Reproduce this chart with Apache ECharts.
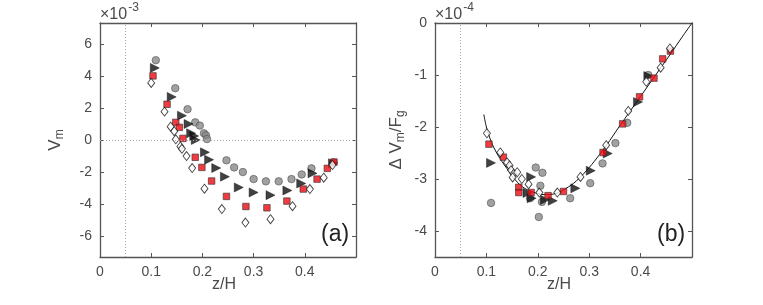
<!DOCTYPE html>
<html><head><meta charset="utf-8">
<script src="https://cdn.jsdelivr.net/npm/echarts@6/dist/echarts.min.js"></script>
<style>html,body{margin:0;padding:0;background:#fff}#c{width:763px;height:305px}</style>
</head><body><div id="c"></div><script>
// ---- data ----
const xTicks = [0, 0.1, 0.2, 0.3, 0.4];
const yTicksA = [-6, -4, -2, 0, 2, 4, 6];
const yTicksB = [-4, -3, -2, -1, 0];

// panel (a): V_m (x1e-3) vs z/H
const circA = [[0.109,4.98],[0.147,3.23],[0.171,1.92],[0.186,1.1],[0.195,0.9],[0.203,0.42],[0.207,0.3],[0.209,0.06],[0.247,-1.27],[0.262,-1.71],[0.279,-2.0],[0.30,-2.44],[0.324,-2.58],[0.349,-2.58],[0.374,-2.44],[0.394,-2.15],[0.413,-1.77],[0.456,-1.4]];
const triA = [[0.107,4.5],[0.14,2.69],[0.16,1.52],[0.173,1.0],[0.178,0.42],[0.184,0.25],[0.187,0.0],[0.205,-0.77],[0.213,-1.23],[0.227,-1.75],[0.244,-2.29],[0.271,-2.96],[0.30,-3.27],[0.333,-3.44],[0.366,-3.15],[0.393,-2.71],[0.415,-2.08],[0.455,-1.45]];
const sqA = [[0.1035,4.0],[0.131,2.23],[0.148,1.1],[0.155,0.79],[0.162,0.1],[0.186,-1.08],[0.199,-1.71],[0.218,-2.56],[0.247,-3.52],[0.285,-4.15],[0.326,-4.23],[0.365,-3.81],[0.397,-3.06],[0.424,-2.44],[0.444,-1.77],[0.457,-1.375]];
const diaA = [[0.1,3.56],[0.126,1.77],[0.138,0.83],[0.145,0.55],[0.148,0.04],[0.157,-0.4],[0.16,-0.55],[0.169,-1.0],[0.18,-1.75],[0.204,-3.04],[0.238,-4.31],[0.284,-5.15],[0.333,-4.94],[0.376,-4.13],[0.41,-3.06],[0.437,-2.35],[0.454,-1.56]];

// panel (b): dV_m/F_g (x1e-4) vs z/H
const circB = [[0.109,-3.46],[0.196,-2.78],[0.209,-2.88],[0.205,-3.13],[0.202,-3.73],[0.208,-3.44],[0.185,-3.37],[0.263,-3.37],[0.302,-3.08],[0.326,-2.7],[0.351,-2.31],[0.374,-1.92],[0.415,-1.0]];
const triB = [[0.109,-2.69],[0.187,-2.96],[0.18,-3.27],[0.188,-3.37],[0.214,-3.4],[0.229,-3.42],[0.273,-3.18],[0.303,-2.84],[0.336,-2.51],[0.395,-1.52],[0.415,-1.02]];
const sqB = [[0.105,-2.33],[0.133,-2.58],[0.163,-3.16],[0.163,-3.26],[0.187,-3.26],[0.22,-3.32],[0.25,-3.24],[0.327,-2.49],[0.365,-1.94],[0.398,-1.42],[0.426,-1.06],[0.443,-0.69],[0.458,-0.54]];
const diaB = [[0.101,-2.12],[0.127,-2.49],[0.14,-2.68],[0.145,-2.74],[0.148,-2.83],[0.153,-2.9],[0.151,-2.97],[0.16,-2.87],[0.169,-3.0],[0.182,-3.1],[0.203,-3.26],[0.238,-3.26],[0.283,-2.96],[0.333,-2.35],[0.376,-1.69],[0.411,-1.13],[0.439,-0.86],[0.457,-0.49]];
const fitB = [[0.095,-1.76],[0.10,-2.0],[0.11,-2.3],[0.12,-2.5],[0.13,-2.66],[0.14,-2.8],[0.15,-2.94],[0.16,-3.06],[0.17,-3.15],[0.18,-3.21],[0.19,-3.25],[0.20,-3.28],[0.21,-3.3],[0.22,-3.3],[0.23,-3.29],[0.24,-3.26],[0.25,-3.21],[0.26,-3.15],[0.27,-3.08],[0.28,-2.99],[0.29,-2.89],[0.30,-2.78],[0.31,-2.66],[0.32,-2.53],[0.33,-2.4],[0.34,-2.26],[0.36,-1.97],[0.38,-1.69],[0.40,-1.41],[0.42,-1.13],[0.44,-0.85],[0.46,-0.57],[0.48,-0.28],[0.50,0]];

// ---- styling ----
const FONT = '"Liberation Sans", Arial, sans-serif';
const AX = '#555';
const LBL = '#4a4a4a';

function xAxes(gi) {
  return [{
    type:'value', gridIndex:gi, position:'bottom', min:0, max:0.5,
    axisLine:{show:true, onZero:false, lineStyle:{color:AX, width:1.3}},
    axisTick:{show:true, inside:true, length:4, customValues:xTicks, lineStyle:{color:AX}},
    axisLabel:{show:true, customValues:xTicks, margin:8, color:LBL, fontSize:14, fontFamily:FONT},
    splitLine:{show:false}
  },{
    type:'value', gridIndex:gi, position:'top', min:0, max:0.5,
    axisLine:{show:true, onZero:false, lineStyle:{color:AX, width:1.3}},
    axisTick:{show:true, inside:true, length:4, customValues:xTicks, lineStyle:{color:AX}},
    axisLabel:{show:false}, splitLine:{show:false}
  }];
}
function yAxes(gi, min, max, ticks, name) {
  return [{
    type:'value', gridIndex:gi, position:'left', min:min, max:max,
    axisLine:{show:true, onZero:false, lineStyle:{color:AX, width:1.3}},
    axisTick:{show:true, inside:true, length:4, customValues:ticks, lineStyle:{color:AX}},
    axisLabel:{show:true, customValues:ticks, margin:8, color:LBL, fontSize:14, fontFamily:FONT},
    splitLine:{show:false},
    name:name, nameLocation:'middle', nameRotate:90, nameGap: gi===0 ? 34 : 28,
    nameTextStyle:{color:LBL, fontFamily:FONT, fontSize:17,
      rich:{n:{fontSize:17, fontFamily:FONT, color:LBL},
            s:{fontSize:12, fontFamily:FONT, color:LBL, padding:[10,0,0,0]}}}
  },{
    type:'value', gridIndex:gi, position:'right', min:min, max:max,
    axisLine:{show:true, onZero:false, lineStyle:{color:AX, width:1.3}},
    axisTick:{show:true, inside:true, length:4, customValues:ticks, lineStyle:{color:AX}},
    axisLabel:{show:false}, splitLine:{show:false}
  }];
}

function scat(data, xi, yi, kind) {
  const base = {type:'scatter', xAxisIndex:xi, yAxisIndex:yi, data:data, silent:true, z:3};
  if (kind==='circ') return Object.assign(base,{symbol:'circle', symbolSize:7.5, itemStyle:{color:'#8a8a8a', borderColor:'#555', borderWidth:0.8}});
  if (kind==='tri') return Object.assign(base,{symbol:'triangle', symbolSize:[9,9], symbolRotate:-90, itemStyle:{color:'#111', borderColor:'#000', borderWidth:0.5}});
  if (kind==='sq') return Object.assign(base,{symbol:'rect', symbolSize:6.5, itemStyle:{color:'#ee0a10', borderColor:'#333', borderWidth:0.8}});
  return Object.assign(base,{symbol:'diamond', symbolSize:[7,9], itemStyle:{color:'#fff', borderColor:'#111', borderWidth:0.9}});
}

function refLines(xi, yi, withY) {
  const d = [{xAxis:0.05}];
  if (withY) d.push({yAxis:0});
  return {type:'line', xAxisIndex:xi, yAxisIndex:yi, data:[], silent:true, z:1,
    markLine:{silent:true, symbol:'none', label:{show:false},
      lineStyle:{color:'#aaa', type:[1,2], width:1}, data:d}};
}

const chart = echarts.init(document.getElementById('c'), null, {renderer:'canvas'});
chart.setOption({
  animation:false,
  backgroundColor:'#fff',
  grid:[{left:100, top:23, width:256, height:234},{left:435, top:23, width:257, height:234}],
  xAxis:[...xAxes(0), ...xAxes(1)],
  yAxis:[...yAxes(0,-7.3,7.3,yTicksA,'{n|V}{s|m}'), ...yAxes(1,-4.5,0,yTicksB,'{n|Δ V}{s|m}{n|/F}{s|g}')],
  graphic:[
    {type:'text', left:100, top:2, style:{text:'{a|×10}{b|-3}', rich:{a:{fontSize:16,fontFamily:FONT,fill:LBL,padding:[6,0,0,0]},b:{fontSize:12,fontFamily:FONT,fill:LBL,padding:[0,0,8,1]}}}},
    {type:'text', left:435, top:2, style:{text:'{a|×10}{b|-4}', rich:{a:{fontSize:16,fontFamily:FONT,fill:LBL,padding:[6,0,0,0]},b:{fontSize:12,fontFamily:FONT,fill:LBL,padding:[0,0,8,1]}}}},
    {type:'text', left:212, top:277, style:{text:'z/H', font:'16px '+FONT, fill:LBL}},
    {type:'text', left:547, top:277, style:{text:'z/H', font:'16px '+FONT, fill:LBL}},
    {type:'text', left:321, top:223, style:{text:'(a)', font:'23px '+FONT, fill:'#222'}},
    {type:'text', left:657, top:223, style:{text:'(b)', font:'23px '+FONT, fill:'#222'}}
  ],
  series:[
    refLines(0,0,true),
    scat(circA,0,0,'circ'), scat(triA,0,0,'tri'), scat(sqA,0,0,'sq'), scat(diaA,0,0,'dia'),
    refLines(2,2,false),
    {type:'line', xAxisIndex:2, yAxisIndex:2, data:fitB, smooth:0.3, symbol:'none', silent:true, z:2,
     lineStyle:{color:'#111', width:1}},
    scat(circB,2,2,'circ'), scat(triB,2,2,'tri'), scat(sqB,2,2,'sq'), scat(diaB,2,2,'dia')
  ]
});
</script></body></html>
